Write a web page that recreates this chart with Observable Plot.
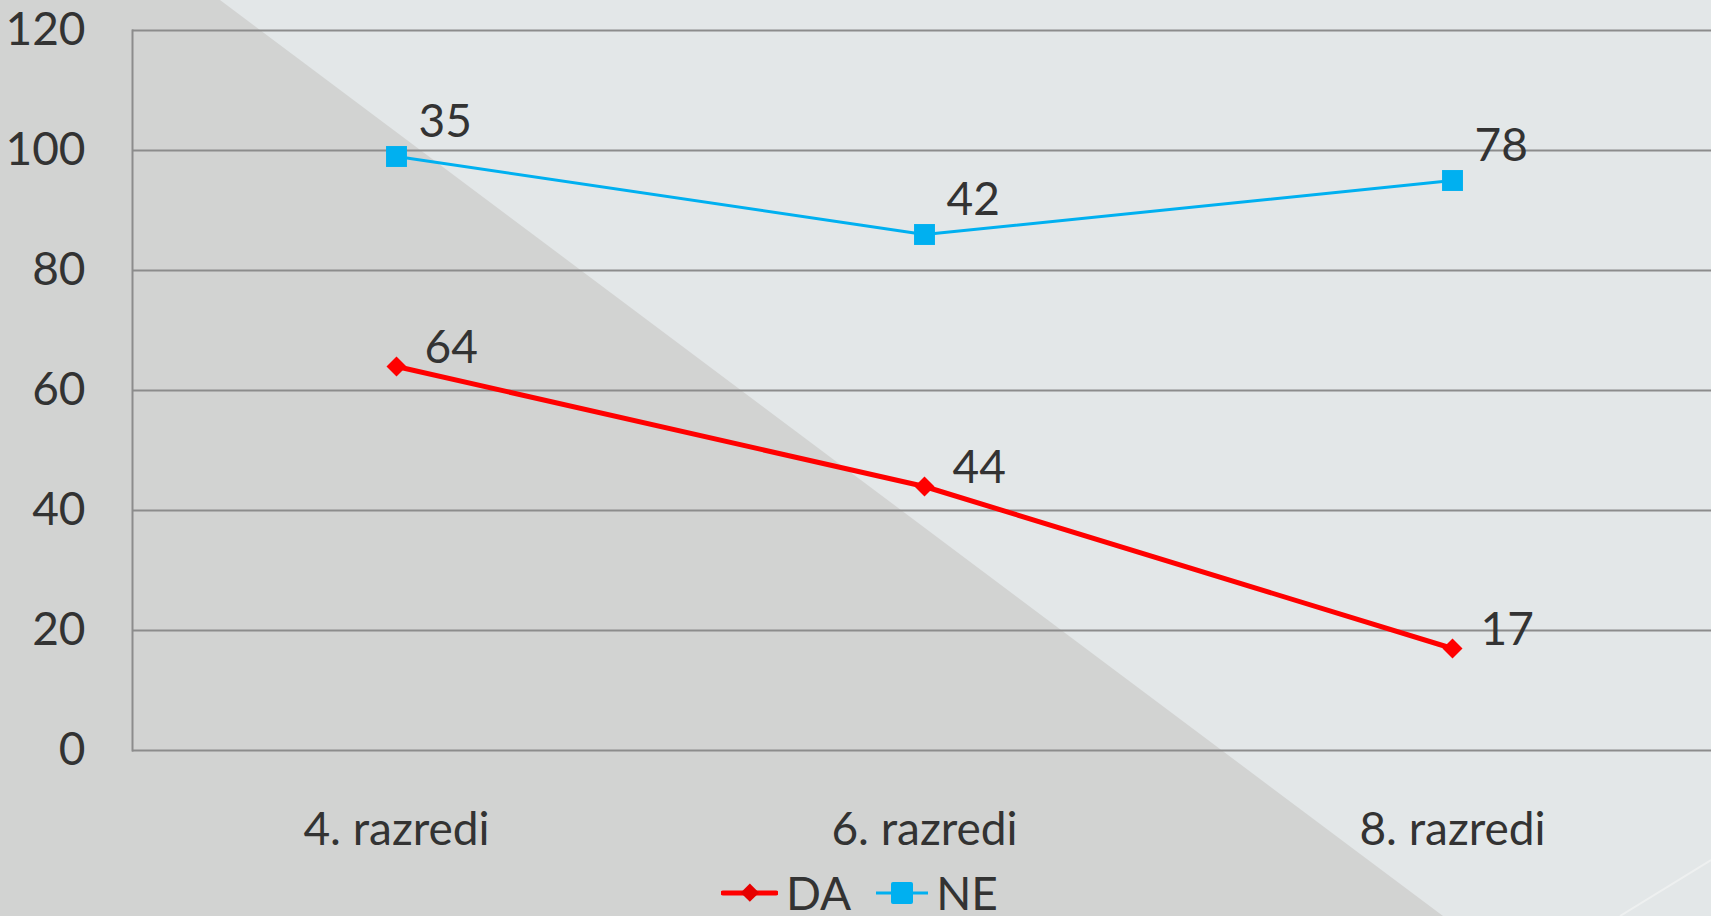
<!DOCTYPE html>
<html>
<head>
<meta charset="utf-8">
<script src="https://cdn.jsdelivr.net/npm/d3@7"></script>
<script src="https://cdn.jsdelivr.net/npm/@observablehq/plot@0.6"></script>
<style>
  html, body { margin: 0; padding: 0; width: 1711px; height: 916px; overflow: hidden; background: #e3e7e8; }
  #bg { position: absolute; left: 0; top: 0; width: 1711px; height: 916px; z-index: 0; }
  #wrap { position: relative; z-index: 1; font-family: Lato, "Noto Sans", sans-serif; color: #333; }
  #legend { display: flex; align-items: center; height: 46px; padding-left: 721px; font-size: 46px; line-height: 46px; color: #333; }
  #legend .item { display: flex; align-items: center; }
  #legend svg { display: block; }
</style>
</head>
<body>
<svg id="bg" width="1711" height="916">
  <polygon points="0,0 220,0 1443,916 0,916" fill="#d2d3d2"></polygon>
  <line x1="1620" y1="916" x2="1711" y2="860" stroke="#eef0f0" stroke-width="2"></line>
</svg>
<div id="wrap"></div>
<script>
const categories = ["4. razredi", "6. razredi", "8. razredi"];
const seriesNames = ["DA", "NE"];
const daValues = [64, 44, 17];
const neValues = [35, 42, 78];
const yTicks = [0, 20, 40, 60, 80, 100, 120];
const seriesColors = ["#ff0000", "#00b0f0"];

const rows = [];
categories.forEach((c, i) => rows.push({cat: c, series: "DA", value: daValues[i]}));
categories.forEach((c, i) => rows.push({cat: c, series: "NE", value: neValues[i]}));

const stackOpts = {x: "cat", y: "value", z: "series", order: null};
const isDA = d => d.series === "DA";

const chart = Plot.plot({
  width: 1711,
  height: 870,
  marginLeft: 132,
  marginRight: -5,
  marginTop: 30,
  marginBottom: 120,
  style: {fontFamily: 'Lato, "Noto Sans", sans-serif', fontSize: "46px", color: "#333", background: "transparent", overflow: "visible"},
  x: {type: "point", domain: categories, padding: 0.5, label: null},
  y: {domain: [0, 120], label: null},
  color: {domain: seriesNames, range: seriesColors},
  symbol: {domain: seriesNames, range: ["diamond2", "square"]},
  r: {type: "identity"},
  marks: [
    Plot.gridY(yTicks, {stroke: "#8c8c8c", strokeOpacity: 1, strokeWidth: 2}),
    Plot.frame({anchor: "left", stroke: "#8c8c8c", strokeWidth: 2}),
    Plot.axisY(yTicks, {tickSize: 0, tickPadding: 47, label: null, fontSize: 46}),
    Plot.axisX({tickSize: 0, tickPadding: 62, label: null, fontSize: 46}),
    Plot.lineY(rows, Plot.stackY2({...stackOpts, stroke: "series", strokeWidth: d => isDA(d) ? 5 : 3})),
    Plot.dot(rows, Plot.stackY2({...stackOpts, symbol: "series", fill: "series", r: d => isDA(d) ? 9 : 11.8, stroke: "none"})),
    Plot.text(rows, Plot.stackY2({...stackOpts, text: d => isDA(d) ? String(d.value) : "", textAnchor: "start", lineAnchor: "bottom", dx: 28, dy: -4, fill: "#333", fontSize: 46})),
    Plot.text(rows, Plot.stackY2({...stackOpts, text: d => isDA(d) ? "" : String(d.value), textAnchor: "start", lineAnchor: "bottom", dx: 22, dy: -20, fill: "#333", fontSize: 46}))
  ]
});

const wrap = document.getElementById("wrap");
wrap.appendChild(chart);

const legend = document.createElement("div");
legend.id = "legend";
const sym = {
  DA: '<svg width="57" height="20"><line x1="2" y1="10" x2="55" y2="10" stroke="#ff0000" stroke-width="5" stroke-linecap="round"/><rect x="22" y="3" width="13" height="13" transform="rotate(45 28.5 10)" fill="#e60000"/></svg>',
  NE: '<svg width="52" height="24"><line x1="0" y1="12" x2="52" y2="12" stroke="#00b0f0" stroke-width="3"/><rect x="15" y="1" width="22" height="22" rx="2" fill="#00b0f0"/></svg>'
};
seriesNames.forEach((s, i) => {
  const item = document.createElement("div");
  item.className = "item";
  item.style.marginRight = i === 0 ? "25px" : "0";
  item.innerHTML = sym[s] + '<span style="margin-left:8px">' + s + '</span>';
  legend.appendChild(item);
});
wrap.appendChild(legend);
</script>
</body>
</html>
